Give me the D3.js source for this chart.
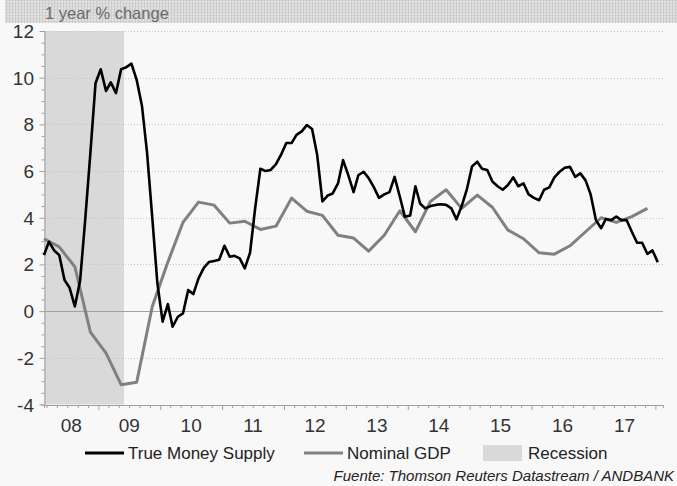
<!DOCTYPE html>
<html>
<head>
<meta charset="utf-8">
<script src="https://cdn.jsdelivr.net/npm/d3@7"></script>
<style>
    body{ margin:0; background:#f8f8f8; }
    svg{ display:block; }
    text{ font-family:"Liberation Sans", Arial, sans-serif; }
</style>
</head>
<body>
<svg id="chart" width="677" height="486"></svg>
<script>
'use strict';

// monthly, Feb 2008 .. Jan 2018
var moneySupply = [
    2.4, 2.97, 2.6, 2.4, 1.33, 1.0, 0.2, 1.3, 3.9, 6.8,
    9.76, 10.36, 9.43, 9.8, 9.34, 10.36, 10.45, 10.6, 9.9, 8.8,
    6.8, 4.0, 1.2, -0.45, 0.3, -0.67, -0.24, -0.1, 0.9, 0.73,
    1.4, 1.85, 2.1, 2.15, 2.2, 2.8, 2.33, 2.37, 2.26, 1.83,
    2.5, 4.4, 6.1, 6.0, 6.05, 6.3, 6.7, 7.2, 7.2, 7.55,
    7.7, 7.97, 7.8, 6.7, 4.7, 4.95, 5.04, 5.47, 6.47, 5.82,
    5.1, 5.82, 5.97, 5.7, 5.3, 4.85, 5.0, 5.1, 5.75, 4.9,
    4.04, 4.1, 5.35, 4.6, 4.4, 4.5, 4.55, 4.58, 4.55, 4.4,
    3.93, 4.5, 5.2, 6.2, 6.4, 6.1, 6.05, 5.55, 5.35, 5.2,
    5.4, 5.73, 5.35, 5.47, 5.0, 4.85, 4.75, 5.2, 5.3, 5.73,
    5.97, 6.14, 6.18, 5.75, 5.9, 5.6, 5.0, 3.9, 3.55, 3.95,
    3.9, 4.05, 3.9, 3.9, 3.4, 2.93, 2.93, 2.45, 2.6, 2.1
];

// quarterly, Q1 2008 .. Q4 2017
var nominalGdp = [
    3.1, 2.75, 1.9, -0.9, -1.8, -3.15, -3.05, 0.2, 2.1, 3.8,
    4.67, 4.54, 3.77, 3.85, 3.5, 3.64, 4.84, 4.28, 4.1, 3.25,
    3.13, 2.57, 3.25, 4.3, 3.4, 4.7, 5.2, 4.4, 4.97, 4.45,
    3.47, 3.1, 2.5, 2.44, 2.8, 3.4, 4.0, 3.8, 4.05, 4.4
];

var yearLabels = ['08', '09', '10', '11', '12', '13', '14', '15', '16', '17'];
var yTicks = [12, 10, 8, 6, 4, 2, 0, -2, -4];
var recession = [ new Date( 2007, 11, 1 ), new Date( 2009, 5, 1 ) ];
var legendItems = [
    { label: 'True Money Supply', type: 'line', color: '#000000' },
    { label: 'Nominal GDP', type: 'line', color: '#808080' },
    { label: 'Recession', type: 'rect', color: '#d9d9d9' }
];
var yTitle = '1 year % change';
var source = 'Fuente: Thomson Reuters Datastream / ANDBANK';

var box = { left: 44, right: 663, top: 31, bottom: 404.5 },
    svg = d3.select( '#chart' ),
    start = new Date( 2008, 1, 15 ),
    end = new Date( 2018, 1, 15 ),
    x = d3.scaleTime().domain( [ start, end ] ).range( [ box.left, box.right ] ),
    y = d3.scaleLinear().domain( [ -4, 12 ] ).range( [ box.bottom, box.top ] );

var msData = moneySupply.map( function( v, i ){
        return { date: new Date( 2008, 1 + i, 15 ), value: v };
    }),
    gdpData = nominalGdp.map( function( v, i ){
        return { date: new Date( 2008, 1 + i * 3, 15 ), value: v };
    });

// header strip with the checkered texture
var $pattern = svg.append( 'defs' ).append( 'pattern' )
    .attr( 'id', 'hatch' )
    .attr( 'width', 3 )
    .attr( 'height', 3 )
    .attr( 'patternUnits', 'userSpaceOnUse' );
$pattern.append( 'rect' ).attr( 'width', 3 ).attr( 'height', 3 ).attr( 'fill', '#e2e2e2' );
$pattern.append( 'rect' ).attr( 'width', 1 ).attr( 'height', 3 ).attr( 'fill', '#cacaca' );
$pattern.append( 'rect' ).attr( 'width', 3 ).attr( 'height', 1 ).attr( 'fill', '#d0d0d0' );

svg.append( 'rect' )
    .attr( 'x', 5 ).attr( 'y', 0 )
    .attr( 'width', 672 ).attr( 'height', 23 )
    .attr( 'fill', 'url(#hatch)' );

svg.append( 'text' )
    .attr( 'x', 45 ).attr( 'y', 19 )
    .attr( 'fill', '#6a6a6a' )
    .style( 'font-size', '16.5px' )
    .text( yTitle );

// recession shading
svg.append( 'rect' )
    .attr( 'x', box.left )
    .attr( 'y', box.top )
    .attr( 'width', x( recession[1] ) - box.left )
    .attr( 'height', box.bottom - box.top )
    .attr( 'fill', '#d9d9d9' );

// grid
svg.append( 'g' ).selectAll( 'line' )
    .data( yTicks.filter( function( t ){ return t !== 0 && t !== -4; } ) )
    .join( 'line' )
    .attr( 'x1', box.left ).attr( 'x2', box.right )
    .attr( 'y1', function( d ){ return Math.round( y( d ) ) + 0.5; } )
    .attr( 'y2', function( d ){ return Math.round( y( d ) ) + 0.5; } )
    .attr( 'stroke', '#c4c4c4' )
    .attr( 'stroke-dasharray', '1,2' );

svg.append( 'line' )
    .attr( 'x1', box.left ).attr( 'x2', box.right )
    .attr( 'y1', Math.round( y( 0 ) ) + 0.5 ).attr( 'y2', Math.round( y( 0 ) ) + 0.5 )
    .attr( 'stroke', '#a0a0a0' );

// y axis
var $yAxis = svg.append( 'g' )
    .attr( 'transform', 'translate(' + ( box.left + 0.5 ) + ',0)' )
    .call( d3.axisLeft( y ).tickValues( d3.range( -4, 12.01, 0.5 ) ).tickSize( 3 ).tickFormat( '' ) );
$yAxis.selectAll( 'path, line' ).attr( 'stroke', '#a0a0a0' );
$yAxis.selectAll( '.tick line' )
    .filter( function( d ){ return d % 2 === 0; } )
    .attr( 'x2', -5 );

svg.append( 'g' ).selectAll( 'text' )
    .data( yTicks )
    .join( 'text' )
    .attr( 'x', 34 )
    .attr( 'y', function( d ){ return y( d ) + 7; } )
    .attr( 'text-anchor', 'end' )
    .attr( 'fill', '#333' )
    .style( 'font-size', '19px' )
    .text( function( d ){ return d; } );

// x axis
var $xAxis = svg.append( 'g' )
    .attr( 'transform', 'translate(0,' + ( box.bottom + 0.5 ) + ')' )
    .call( d3.axisBottom( x ).ticks( d3.timeMonth.every( 2 ) ).tickSize( 3 ).tickFormat( '' ) );
$xAxis.selectAll( 'path, line' ).attr( 'stroke', '#a0a0a0' );
$xAxis.selectAll( '.tick line' )
    .filter( function( d ){ return d.getMonth() === 0; } )
    .attr( 'y2', 5 );

svg.append( 'g' ).selectAll( 'text' )
    .data( yearLabels )
    .join( 'text' )
    .attr( 'x', function( d, i ){
        var a = Math.max( x( new Date( 2008 + i, 0, 1 ) ), box.left ),
            b = x( new Date( 2009 + i, 0, 1 ) );
        return ( a + b ) / 2;
    })
    .attr( 'y', 432 )
    .attr( 'text-anchor', 'middle' )
    .attr( 'fill', '#333' )
    .style( 'font-size', '19px' )
    .text( function( d ){ return d; } );

// series
var line = d3.line()
    .x( function( d ){ return x( d.date ); } )
    .y( function( d ){ return y( d.value ); } );

svg.append( 'path' )
    .datum( gdpData )
    .attr( 'd', line )
    .attr( 'fill', 'none' )
    .attr( 'stroke', '#808080' )
    .attr( 'stroke-width', 3 )
    .attr( 'stroke-linejoin', 'round' );

svg.append( 'path' )
    .datum( msData )
    .attr( 'd', line )
    .attr( 'fill', 'none' )
    .attr( 'stroke', '#000' )
    .attr( 'stroke-width', 2.6 )
    .attr( 'stroke-linejoin', 'round' );

// legend
var legendX = [ 85, 304, 483 ];
var $legend = svg.append( 'g' ).selectAll( 'g' )
    .data( legendItems )
    .join( 'g' )
    .attr( 'transform', function( d, i ){ return 'translate(' + legendX[i] + ',453)'; } );

$legend.filter( function( d ){ return d.type === 'line'; } )
    .append( 'line' )
    .attr( 'x1', 0 ).attr( 'x2', 39 )
    .attr( 'stroke', function( d ){ return d.color; } )
    .attr( 'stroke-width', 3 );

$legend.filter( function( d ){ return d.type === 'rect'; } )
    .append( 'rect' )
    .attr( 'x', 0 ).attr( 'y', -8 )
    .attr( 'width', 39 ).attr( 'height', 16 )
    .attr( 'fill', function( d ){ return d.color; } );

$legend.append( 'text' )
    .attr( 'x', function( d ){ return d.type === 'rect' ? 45 : 43; } )
    .attr( 'y', 6 )
    .attr( 'fill', '#222' )
    .style( 'font-size', '17px' )
    .text( function( d ){ return d.label; } );

svg.append( 'text' )
    .attr( 'x', 674 ).attr( 'y', 481 )
    .attr( 'text-anchor', 'end' )
    .attr( 'fill', '#222' )
    .style( 'font-size', '15px' )
    .style( 'font-style', 'italic' )
    .text( source );
</script>
</body>
</html>
